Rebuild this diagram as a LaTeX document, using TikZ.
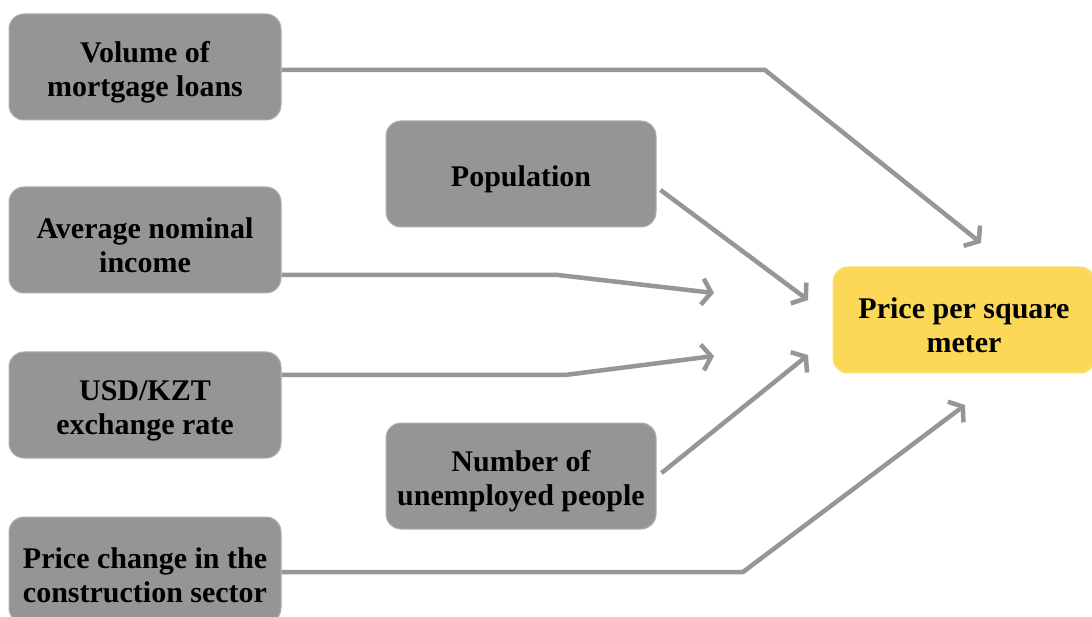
\documentclass[tikz,border=0pt]{standalone}
\usepackage{fontspec}
\setmainfont{Liberation Serif}
\usetikzlibrary{arrows.meta}
\definecolor{boxgray}{RGB}{149,149,149}
\definecolor{boxedge}{RGB}{175,175,175}
\definecolor{linegray}{RGB}{150,150,150}
\definecolor{priceyellow}{RGB}{251,216,88}
\newcommand\lowstrut{\rule{0pt}{31pt}}
\tikzset{
  factor/.style={rectangle, rounded corners=15pt, fill=boxgray, draw=boxedge, line width=1pt,
    minimum width=272pt, minimum height=106pt, inner sep=0pt, align=center,
    font=\fontsize{30}{34}\selectfont\bfseries},
  target/.style={factor, fill=priceyellow, draw=priceyellow!80!white, minimum width=262pt},
  conn/.style={draw=linegray, line width=4.5pt, line join=round,
    -{Straight Barb[length=9pt,width=26pt,line width=4.5pt]}},
}
\begin{document}
\begin{tikzpicture}[x=1pt,y=-1pt]
\useasboundingbox (0,0) rectangle (1092,617);
\fill[white] (0,0) rectangle (1092,617);
\node[factor] (vol) at (145,67) {\lowstrut Volume of\\mortgage loans};
\node[factor] (avg) at (145,240) {\lowstrut Average nominal\\income};
\node[factor] (usd) at (145,405) {\lowstrut USD/KZT\\exchange rate};
\node[factor] (pcc) at (145,570) {\lowstrut Price change in the\\construction sector};
\node[factor, minimum width=270pt] (pop) at (521,174) {\lowstrut Population};
\node[factor, minimum width=270pt] (une) at (521,476) {\lowstrut Number of\\unemployed people};
\node[target] (price) at (964,320) {\lowstrut Price per square\\meter};
\coordinate (t1) at (981,243);
\coordinate (t2) at (714,293);
\coordinate (t3) at (714,356);
\coordinate (t4) at (965,405);
\coordinate (t5) at (808,300);
\coordinate (t6) at (808,355);
\draw[conn] ([yshift=-3pt]vol.east) -- (765,70) -- (t1);
\draw[conn] ([yshift=-35pt]avg.east) -- (558,275) -- (t2);
\draw[conn] ([yshift=30pt]usd.east) -- (565,375) -- (t3);
\draw[conn] ([yshift=-2pt]pcc.east) -- (743,572) -- (t4);
\draw[conn] ([shift={(4pt,-16pt)}]pop.east) -- (t5);
\draw[conn] ([shift={(5pt,3pt)}]une.east) -- (t6);
\end{tikzpicture}
\end{document}
